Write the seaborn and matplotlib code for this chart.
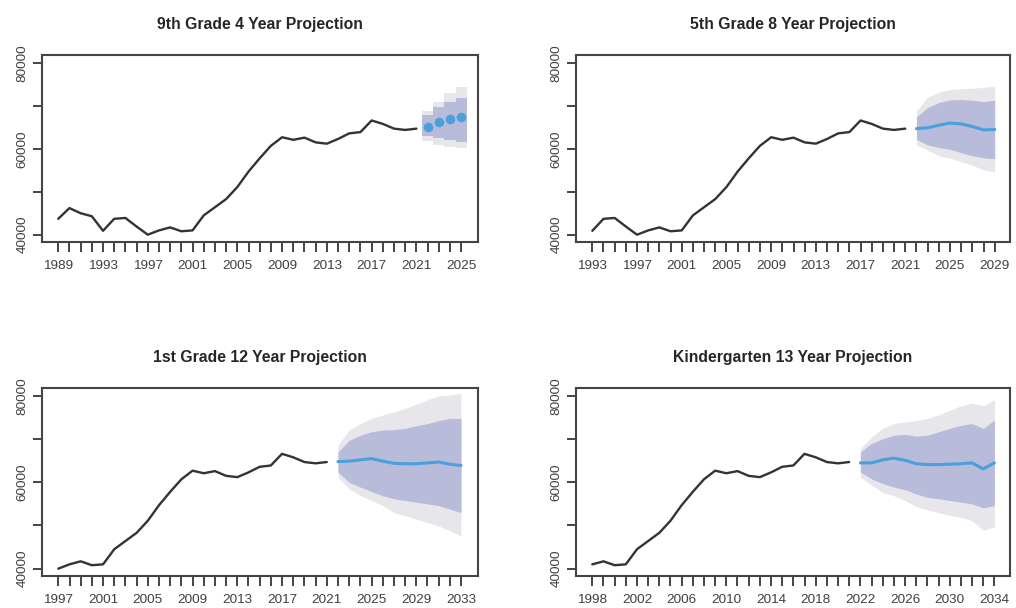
import matplotlib
matplotlib.use("Agg")
import matplotlib.pyplot as plt
import seaborn as sns
import pandas as pd

# ---------------- data ----------------
hist_years = [1989, 1990, 1991, 1992, 1993, 1994, 1995, 1996, 1997, 1998, 1999,
              2000, 2001, 2002, 2003, 2004, 2005, 2006, 2007, 2008, 2009, 2010,
              2011, 2012, 2013, 2014, 2015, 2016, 2017, 2018, 2019, 2020, 2021]
hist_values = [43700, 46200, 45000, 44300, 40900, 43700, 43900, 41900, 40000, 41000, 41700,
               40800, 41000, 44500, 46400, 48300, 51100, 54700, 57800, 60700, 62700, 62100,
               62600, 61500, 61200, 62300, 63600, 63900, 66600, 65800, 64700, 64400, 64700]

# 9th grade, 4-year projection
g9_years = [2022, 2023, 2024, 2025]
g9_mean = [65100, 66200, 66900, 67400]
g9_lo80 = [63000, 62500, 62000, 61600]
g9_hi80 = [67800, 69800, 70900, 71900]
g9_lo95 = [61900, 61000, 60500, 60100]
g9_hi95 = [68800, 70900, 72900, 74400]

# 5th grade, 8-year projection
g5_years = [2022, 2023, 2024, 2025, 2026, 2027, 2028, 2029]
g5_mean = [64700, 64900, 65500, 66000, 65800, 65200, 64400, 64500]
g5_lo80 = [62200, 60900, 60300, 59900, 59100, 58400, 57900, 57700]
g5_hi80 = [67400, 69600, 70800, 71400, 71500, 71300, 71000, 71300]
g5_lo95 = [60900, 59700, 58400, 57800, 57000, 56200, 55100, 54600]
g5_hi95 = [68800, 72000, 73200, 73800, 74000, 74100, 74300, 74600]

# 1st grade, 12-year projection
g1_years = [2022, 2023, 2024, 2025, 2026, 2027, 2028, 2029, 2030, 2031, 2032, 2033]
g1_mean = [64800, 64900, 65200, 65500, 64900, 64400, 64300, 64300, 64500, 64700, 64200, 63900]
g1_lo80 = [62400, 60000, 58900, 57900, 56900, 56200, 55800, 55400, 55000, 54600, 53800, 53000]
g1_hi80 = [67000, 69700, 70900, 71700, 72100, 72200, 72500, 73100, 73600, 74300, 74800, 74800]
g1_lo95 = [61200, 58500, 56900, 55800, 54600, 53000, 52300, 51500, 50700, 49900, 48800, 47600]
g1_hi95 = [68600, 72100, 73600, 74800, 75600, 76300, 77100, 78100, 79100, 80000, 80200, 80600]

# Kindergarten, 13-year projection
gk_years = [2022, 2023, 2024, 2025, 2026, 2027, 2028, 2029, 2030, 2031, 2032, 2033, 2034]
gk_mean = [64500, 64500, 65200, 65600, 65100, 64300, 64100, 64100, 64200, 64300, 64500, 63100, 64500]
gk_lo80 = [62400, 60800, 59700, 58900, 58300, 57300, 56500, 56200, 55800, 55400, 55000, 54100, 54600]
gk_hi80 = [67000, 69000, 70100, 70900, 71100, 70700, 70900, 71700, 72500, 73200, 73600, 72500, 74400]
gk_lo95 = [61200, 59300, 57700, 56900, 55800, 54400, 53600, 53000, 52300, 51900, 51100, 48900, 49600]
gk_hi95 = [67800, 70500, 72500, 73600, 74000, 74300, 74800, 75600, 76700, 77700, 78400, 77700, 79200]

titles = ["9th Grade 4 Year Projection", "5th Grade 8 Year Projection",
          "1st Grade 12 Year Projection", "Kindergarten 13 Year Projection"]
start_years = [1989, 1993, 1997, 1998]
y_ticks = [40000, 50000, 60000, 70000, 80000]
y_tick_labels = ["40000", "", "60000", "", "80000"]

# ---------------- style ----------------
sns.set_theme(style="white")
plt.rcParams["font.family"] = ["Liberation Sans", "DejaVu Sans"]

C_HIST = "#333333"
C_FC = "#4aa0dc"
C_80 = "#b8bbd9"
C_95 = "#e6e6eb"
C_AX = "#444444"
C_TXT = "#404040"

fig = plt.figure(figsize=(10.16, 6.08), dpi=100)
W, H = 1016, 608
boxes = [(42, 55, 478, 242), (576, 55, 1010, 242),
         (42, 388, 478, 576), (576, 388, 1010, 576)]
xlims = [(1987.55, 2026.5), (1991.54, 2030.37), (1995.54, 2034.52), (1996.54, 2035.4)]

forecasts = [
    (g9_years, g9_mean, g9_lo80, g9_hi80, g9_lo95, g9_hi95),
    (g5_years, g5_mean, g5_lo80, g5_hi80, g5_lo95, g5_hi95),
    (g1_years, g1_mean, g1_lo80, g1_hi80, g1_lo95, g1_hi95),
    (gk_years, gk_mean, gk_lo80, gk_hi80, gk_lo95, gk_hi95),
]

for i in range(4):
    x0, y0, x1, y1 = boxes[i]
    ax = fig.add_axes([x0 / W, 1 - y1 / H, (x1 - x0) / W, (y1 - y0) / H])
    sy = start_years[i]
    hist = pd.DataFrame({"year": hist_years, "value": hist_values})
    hist = hist[hist["year"] >= sy]
    fy, fm, l80, h80, l95, h95 = forecasts[i]
    fc = pd.DataFrame({"year": fy, "mean": fm, "lo80": l80, "hi80": h80,
                       "lo95": l95, "hi95": h95})

    if i == 0:
        ax.bar(fc["year"], fc["hi95"] - fc["lo95"], bottom=fc["lo95"], width=1.0,
               color=C_95, linewidth=0, zorder=1)
        ax.bar(fc["year"], fc["hi80"] - fc["lo80"], bottom=fc["lo80"], width=1.0,
               color=C_80, linewidth=0, zorder=2)
        sns.scatterplot(data=fc, x="year", y="mean", ax=ax, color=C_FC, s=48,
                        linewidth=0, zorder=4)
    else:
        ax.fill_between(fc["year"], fc["lo95"], fc["hi95"], color=C_95, linewidth=0, zorder=1)
        ax.fill_between(fc["year"], fc["lo80"], fc["hi80"], color=C_80, linewidth=0, zorder=2)
        sns.lineplot(data=fc, x="year", y="mean", ax=ax, color=C_FC, linewidth=2.2, zorder=4)

    sns.lineplot(data=hist, x="year", y="value", ax=ax, color=C_HIST, linewidth=1.7, zorder=3)

    ax.set_xlim(*xlims[i])
    ax.set_ylim(38300, 81850)
    end_year = fy[-1]
    years_all = list(range(sy, end_year + 1))
    ax.set_xticks(years_all)
    ax.set_xticklabels([str(y) if (y - sy) % 4 == 0 else "" for y in years_all])
    ax.set_yticks(y_ticks)
    ax.set_yticklabels(y_tick_labels, rotation=90, va="center")
    ax.set_xlabel("")
    ax.set_ylabel("")
    ax.tick_params(axis="x", direction="out", length=7, width=1.4, color=C_AX,
                   labelsize=9.7, labelcolor=C_TXT, pad=6, bottom=True)
    ax.tick_params(axis="y", direction="out", length=6.5, width=1.4, color=C_AX,
                   labelsize=9.7, labelcolor=C_TXT, pad=3, left=True)
    for sp in ax.spines.values():
        sp.set_visible(True)
        sp.set_color(C_AX)
        sp.set_linewidth(1.5)
    ax.set_title(titles[i], fontsize=11.3, fontweight="bold", color="#262626",
                 pad=19 if i < 2 else 18.5)
    ax.grid(False)

fig.savefig("out.png", dpi=100, facecolor="white")
